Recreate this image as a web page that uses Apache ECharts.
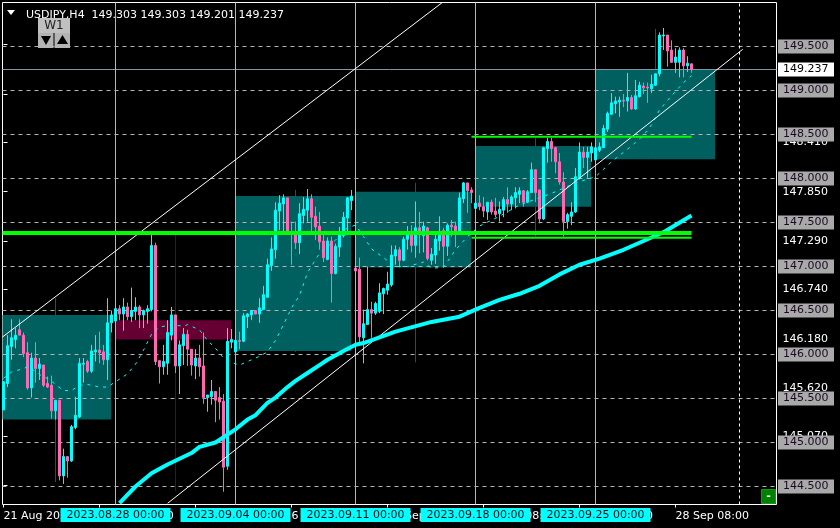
<!DOCTYPE html>
<html><head><meta charset="utf-8">
<style>html,body{margin:0;padding:0;background:#000;}#c{width:840px;height:528px;}</style>
<script src="https://cdn.jsdelivr.net/npm/echarts@6/dist/echarts.min.js"></script>
</head><body><div id="c"></div>
<script>
const symbolTitle = "USDJPY,H4  149.303 149.303 149.201 149.237";
const ohlc = [
[145.37,145.69,145.37,145.69],[145.67,146.10,145.63,146.22],[146.09,146.19,145.94,146.40],[146.17,146.22,146.07,146.30],
[146.28,146.22,146.22,146.40],[146.22,146.01,145.97,146.25],[146.02,145.62,145.60,146.14],[145.62,145.96,145.51,146.02],
[145.96,145.84,145.68,146.14],[145.84,145.89,145.71,145.96],[145.88,145.65,145.63,145.88],[145.67,145.63,145.62,145.75],
[145.65,145.36,145.27,145.76],[145.36,145.48,145.26,145.48],[145.48,144.62,144.57,145.48],[144.62,144.84,144.53,144.93],
[144.84,144.79,144.60,144.84],[144.79,145.18,144.78,145.20],[145.17,145.31,145.15,145.52],[145.29,145.90,145.28,145.96],
[145.89,145.90,145.68,145.96],[145.92,145.81,145.79,145.94],[145.81,146.04,145.79,146.11],[146.03,146.05,145.92,146.22],
[146.05,146.02,145.90,146.26],[146.03,145.94,145.88,146.11],[145.94,146.36,145.71,146.64],[146.36,146.45,146.25,146.50],
[146.38,146.52,146.28,146.52],[146.52,146.46,146.39,146.56],[146.46,146.54,146.27,146.64],[146.54,146.43,146.39,146.59],
[146.43,146.50,146.37,146.76],[146.49,146.54,146.39,146.65],[146.54,146.45,146.30,146.56],[146.45,146.50,146.30,146.51],
[146.49,146.52,146.35,146.56],[146.51,147.24,146.49,147.37],[147.24,145.92,145.88,147.27],[145.93,145.86,145.67,145.93],
[145.86,145.92,145.77,146.11],[145.90,146.25,145.77,146.39],[146.22,146.45,146.16,146.54],[146.45,145.87,145.79,146.45],
[145.87,146.11,145.55,146.16],[146.10,146.23,145.88,146.30],[146.23,146.06,145.87,146.28],[146.06,145.88,145.76,146.06],
[145.87,145.96,145.72,146.06],[145.96,145.86,145.75,146.11],[145.87,145.51,145.44,146.25],[145.51,145.54,145.35,145.54],
[145.52,145.58,145.43,145.71],[145.58,145.48,145.23,145.58],[145.51,145.46,145.26,145.63],[145.47,144.72,144.44,145.55],
[144.73,146.15,144.69,146.30],[146.14,146.17,146.07,146.29],[146.03,146.16,146.03,146.16],[146.16,146.15,146.06,146.26],
[146.15,146.44,146.14,146.47],[146.43,146.46,146.30,146.47],[146.45,146.50,146.39,146.50],[146.50,146.46,146.46,146.50],
[146.46,146.53,146.36,146.64],[146.51,146.68,146.51,146.78],[146.65,147.02,146.65,147.09],[147.01,147.20,146.95,147.33],
[147.19,147.64,147.09,147.73],[147.63,147.72,147.41,147.81],[147.71,147.78,147.38,147.82],[147.78,147.38,147.38,147.78],
[147.39,147.38,147.02,147.51],[147.38,147.27,147.20,147.51],[147.27,147.60,147.14,147.72],[147.58,147.65,147.49,147.79],
[147.64,147.77,147.51,147.88],[147.77,147.56,147.38,147.82],[147.57,147.45,147.30,147.68],[147.46,147.28,147.19,147.62],
[147.29,147.10,147.05,147.39],[147.08,147.29,147.07,147.33],[147.29,146.92,146.59,147.34],[146.92,147.23,146.91,147.26],
[147.22,147.36,147.11,147.45],[147.35,147.56,147.33,147.62],[147.55,147.78,147.39,147.79],[147.75,147.80,147.64,147.87],
[146.98,146.95,146.95,146.98],[146.97,146.20,146.14,147.10],[146.19,146.35,145.90,146.51],[146.34,146.51,146.34,147.00],
[146.51,146.47,146.19,146.60],[146.47,146.58,146.45,146.60],[146.49,146.70,146.47,146.81],[146.69,146.75,146.46,146.76],
[146.73,146.80,146.68,146.94],[146.79,147.13,146.77,147.24],[147.12,147.19,147.02,147.24],[147.19,147.07,146.99,147.22],
[147.07,147.31,147.06,147.34],[147.31,147.39,147.19,147.46],[147.40,147.24,147.16,147.47],[147.24,147.44,147.10,147.74],
[147.44,147.36,147.15,147.62],[147.35,147.46,147.16,147.51],[147.44,147.09,147.07,147.45],[147.07,147.14,147.02,147.21],
[147.13,147.31,147.03,147.36],[147.29,147.40,147.18,147.57],[147.41,147.23,147.00,147.44],[147.23,147.47,147.12,147.49],
[147.47,147.45,147.34,147.53],[147.46,147.39,147.22,147.51],[147.39,147.78,147.38,147.84],[147.77,147.95,147.72,147.96],
[147.95,147.86,147.61,147.95],[147.87,147.84,147.72,147.90],[147.66,147.72,147.66,147.72],[147.72,147.68,147.64,147.81],
[147.68,147.63,147.56,147.79],[147.62,147.73,147.53,147.73],[147.73,147.62,147.59,147.76],[147.63,147.59,147.56,147.78],
[147.60,147.65,147.51,147.74],[147.64,147.76,147.56,147.79],[147.76,147.71,147.61,147.90],[147.71,147.79,147.64,147.81],
[147.78,147.84,147.66,147.90],[147.82,147.86,147.72,147.90],[147.86,147.73,147.68,147.87],[147.73,147.85,147.72,147.87],
[147.84,148.10,147.84,148.18],[148.10,147.84,147.73,148.10],[147.87,147.54,147.49,147.87],[147.54,148.35,147.53,148.36],
[148.34,148.42,148.18,148.46],[148.42,148.34,148.19,148.46],[148.35,148.19,148.06,148.36],[148.19,147.96,147.93,148.29],
[147.96,147.51,147.34,148.07],[147.51,147.59,147.43,147.61],[147.57,147.62,147.47,147.73],[147.62,148.02,147.61,148.12],
[148.01,148.30,147.99,148.41],[148.30,148.24,148.12,148.36],[148.24,148.30,148.01,148.36],[148.29,148.36,148.19,148.41],
[148.21,148.35,148.18,148.35],[148.32,148.36,148.30,148.41],[148.35,148.57,148.35,148.61],[148.56,148.74,148.53,148.76],
[148.73,148.86,148.72,148.97],[148.85,148.88,148.74,148.93],[148.87,148.89,148.70,148.93],[148.89,148.88,148.81,148.96],
[148.88,148.92,148.76,149.20],[148.92,148.79,148.78,148.95],[148.79,148.94,148.78,149.12],[148.93,149.06,148.92,149.10],
[149.05,149.03,148.96,149.09],[149.04,149.03,148.86,149.09],[149.02,149.07,148.97,149.18],[149.06,149.19,149.05,149.19],
[149.19,149.63,149.16,149.66],[149.62,149.63,149.46,149.71],[149.63,149.45,149.27,149.63],[149.46,149.32,149.32,149.57],
[149.32,149.38,149.20,149.48],[149.32,149.46,149.15,149.49],[149.46,149.28,149.15,149.48],[149.28,149.31,149.21,149.39],
[149.303,149.237,149.201,149.303]];
// weekly candles: start bar, end bar, middle bar, open, close, low, high
const weekly = [
[-2,26.9,13,145.26,146.45,144.55,146.64],
[28,56.9,43,146.39,146.17,144.45,147.36],
[58,86.9,73,146.04,147.80,146.03,147.87],
[88,116.9,103,146.99,147.85,145.91,147.95],
[118,146.9,133,147.68,148.37,147.34,148.46],
[148,177.9,163,148.22,149.237,148.22,149.70]];
const emaSlow = [[29,144.31],[33,144.50],[37,144.65],[41,144.75],[47,144.88],[49,144.95],[53,145.00],[58,145.15],[61,145.26],[63,145.31],[66,145.45],[68,145.51],[71,145.63],[73,145.70],[76,145.79],[79,145.88],[81,145.94],[85,146.04],[88,146.11],[90,146.13],[98,146.26],[107,146.37],[114,146.43],[119,146.53],[124,146.62],[129,146.69],[134,146.78],[139,146.91],[144,147.02],[149,147.09],[155,147.19],[162,147.33],[165,147.39],[172,147.58]];
const maFast = [[0,145.73],[2,145.80],[5,145.84],[6,145.86],[8,145.81],[10,145.74],[11,145.73],[13,145.66],[15,145.59],[17,145.59],[19,145.65],[21,145.66],[24,145.63],[26,145.63],[28,145.69],[31,145.78],[33,145.89],[35,146.05],[37,146.23],[39,146.31],[42,146.34],[45,146.32],[46,146.34],[49,146.28],[51,146.16],[53,146.07],[55,145.96],[57,145.91],[59,145.88],[62,145.94],[64,145.98],[66,146.03],[68,146.16],[70,146.34],[72,146.53],[74,146.67],[76,146.93],[79,147.15],[83,147.30],[86,147.44],[88,147.47],[90,147.34],[92,147.20],[95,147.10],[98,147.00],[101,147.00],[105,147.05],[107,146.98],[110,146.99],[113,147.19],[116,147.34],[119,147.46],[124,147.57],[129,147.70],[134,147.78],[138,147.85],[143,147.95],[148,148.02],[152,148.19],[157,148.37],[160,148.49],[162,148.61],[164,148.78],[167,148.94],[170,149.09],[172,149.17]];
const trendUpper = [[-0.25,146.199],[109.875,150.006]];
const trendLower = [[41.05,144.31],[184.8,149.468]];
const greenThick = [[-0.25,147.38],[172,147.38]];
const greenLow = [[117,147.327],[172,147.327]];
const greenHigh = [[117,148.475],[172,148.475]];
const priceLevels = [149.5,149,148.5,148,147.5,147,146.5,146,145.5,145,144.5];
const lastPrice = 149.237;
const yTicks = [149.52,148.96,148.41,147.85,147.29,146.74,146.18,145.62,145.07,144.51];
const weekBars = [28,58,88,118,148];
const weekLabels = ["2023.08.28 00:00","2023.09.04 00:00","2023.09.11 00:00","2023.09.18 00:00","2023.09.25 00:00"];
const xTickBars = [0,24,48,72,96,120,144,168];
const xTickLabels = ["21 Aug 2023","25 Aug 08:00","31 Aug 08:00","6 Sep 08:00","12 Sep 08:00","18 Sep 08:00","22 Sep 08:00","28 Sep 08:00"];
const futureBar = 184;

const FONT = '"DejaVu Sans"';
const chart = echarts.init(document.getElementById('c'), null, {renderer:'canvas', width:840, height:528});
const lineS = (data, color, width, z, extra) => Object.assign({type:'line', data, symbol:'none', silent:true, z,
  lineStyle:{color, width}, animation:false}, extra||{});

chart.setOption({
  animation:false, backgroundColor:'#000',
  title:{text:symbolTitle, left:21, top:5, textStyle:{color:'#fff', fontSize:11, fontWeight:'normal', fontFamily:FONT}},
  grid:{left:2.5, top:2.5, width:774, height:502, show:true, backgroundColor:'#000', borderColor:'#fff', borderWidth:1, containLabel:false},
  xAxis:{type:'value', min:-0.25, max:193.25, splitLine:{show:false}, axisLine:{show:false},
    axisTick:{show:true, customValues:xTickBars, length:3, lineStyle:{color:'#fff'}},
    axisLabel:{show:true, customValues:xTickBars, color:'#fff', fontFamily:FONT, fontSize:11, align:'left', margin:6,
      formatter:v=>xTickLabels[xTickBars.indexOf(v)]||''}},
  yAxis:{type:'value', position:'right', min:150-502/88, max:150, splitLine:{show:false}, axisLine:{show:false},
    axisTick:{show:true, customValues:yTicks, length:4, lineStyle:{color:'#fff'}},
    axisLabel:{show:true, customValues:yTicks, color:'#fff', fontFamily:FONT, fontSize:11, margin:6,
      formatter:v=>v.toFixed(3)}},
  graphic:[
    {type:'polygon', shape:{points:[[7,10],[15,10],[11,15]]}, style:{fill:'#fff'}, z:50},
    {type:'rect', shape:{x:38,y:18,width:32,height:15}, style:{fill:'#c0c0c0'}, z:50},
    {type:'text', style:{x:54,y:25.5,text:'W1',fill:'#222',font:'12px "DejaVu Sans"',align:'center',verticalAlign:'middle'}, z:51},
    {type:'rect', shape:{x:38,y:33,width:15.5,height:15}, style:{fill:'#b4b4b4'}, z:50},
    {type:'rect', shape:{x:54.5,y:33,width:15.5,height:15}, style:{fill:'#b4b4b4'}, z:50},
    {type:'polygon', shape:{points:[[41,36],[51,36],[46,45]]}, style:{fill:'#000'}, z:51},
    {type:'polygon', shape:{points:[[57,44],[68,44],[62.5,35]]}, style:{fill:'#000'}, z:51},
    {type:'rect', shape:{x:761.5,y:489.5,width:14,height:14}, style:{fill:'#008000',stroke:'#0c9c0c',lineWidth:1}, z:50},
    {type:'text', style:{x:768.5,y:496,text:'-',fill:'#fff',font:'bold 11px "DejaVu Sans"',align:'center',verticalAlign:'middle'}, z:51}
  ],
  series:[
    {type:'custom', name:'W1', z:1, silent:true, animation:false, clip:true,
      encode:{x:[0,1,2], y:[3,4,5,6]},
      data:weekly,
      renderItem(params, api){
        const s=api.value(0), e=api.value(1), m=api.value(2), o=api.value(3), c=api.value(4), l=api.value(5), h=api.value(6);
        const col = c>=o ? '#005f5f' : '#660033';
        const a=api.coord([s,Math.max(o,c)]), b=api.coord([e,Math.min(o,c)]);
        const cs=params.coordSys;
        const rect=echarts.graphic.clipRectByRect({x:a[0],y:a[1],width:b[0]-a[0],height:b[1]-a[1]},{x:cs.x,y:cs.y,width:cs.width,height:cs.height});
        const p1=api.coord([m,h]), p2=api.coord([m,l]);
        const yb=Math.min(p2[1],cs.y+cs.height);
        return {type:'group', children:[
          {type:'line', shape:{x1:p1[0],y1:p1[1],x2:p2[0],y2:yb}, style:{stroke:col,lineWidth:1}},
          {type:'rect', shape:rect, style:{fill:col}}
        ]};
      }},
    {type:'line', name:'levels', data:[], z:2, silent:true, animation:false,
      markLine:{silent:true, symbol:'none', animation:false, z:2,
        data:priceLevels.map(v=>({yAxis:v,
          lineStyle:{color:'#b4b4b4',type:[4,4],width:1},
          label:{show:true, position:'end', distance:1.5, formatter:v.toFixed(3), color:'#1c0a24', backgroundColor:'#a9a9a9',
            fontFamily:FONT, fontSize:11, width:46, height:14, lineHeight:14, padding:[0,5], align:'left'}})).concat([
          {yAxis:lastPrice, lineStyle:{color:'#8494a4',type:'solid',width:1},
           label:{show:true, position:'end', distance:1.5, formatter:lastPrice.toFixed(3), color:'#000', backgroundColor:'#fff',
            fontFamily:FONT, fontSize:11, width:46, height:14, lineHeight:14, padding:[0,5], align:'left'}}])}},
    {type:'line', name:'weeks', data:[], z:3, silent:true, animation:false,
      markLine:{silent:true, symbol:'none', animation:false,
        data:weekBars.map((k,i)=>({xAxis:k, lineStyle:{color:'#55e0e0',type:'solid',width:1},
          label:{show:true, position:'start', distance:3.5, formatter:weekLabels[i], color:'#00121c', backgroundColor:'#00ffff',
            fontFamily:FONT, fontSize:11, width:100, height:14, lineHeight:14, padding:[0,5], align:'center'}})).concat([
          {xAxis:futureBar, lineStyle:{color:'#fff',type:[3,3],width:1}, label:{show:false}}])}},
    {type:'candlestick', name:'USDJPY', z:4, silent:true, animation:false, barWidth:3,
      encode:{x:0, y:[1,2,3,4]},
      data:ohlc.map((r,i)=>[i,r[0],r[1],r[2],r[3]]),
      itemStyle:{color:'#00ffff', color0:'#ff69b4', borderColor:'#00ffff', borderColor0:'#ff69b4', borderWidth:1}},
    lineS(maFast,'#00ffff',1,5,{lineStyle:{color:'#00ffff',width:1,type:[3,5]}}),
    lineS(trendUpper,'#ffffff',1,6),
    lineS(trendLower,'#ffffff',1,6),
    lineS(emaSlow,'#00ffff',4,7),
    lineS(greenThick,'#00ff00',4,8),
    lineS(greenLow,'#00ff00',2,8),
    lineS(greenHigh,'#00ff00',2,8)
  ]
});
</script></body></html>
